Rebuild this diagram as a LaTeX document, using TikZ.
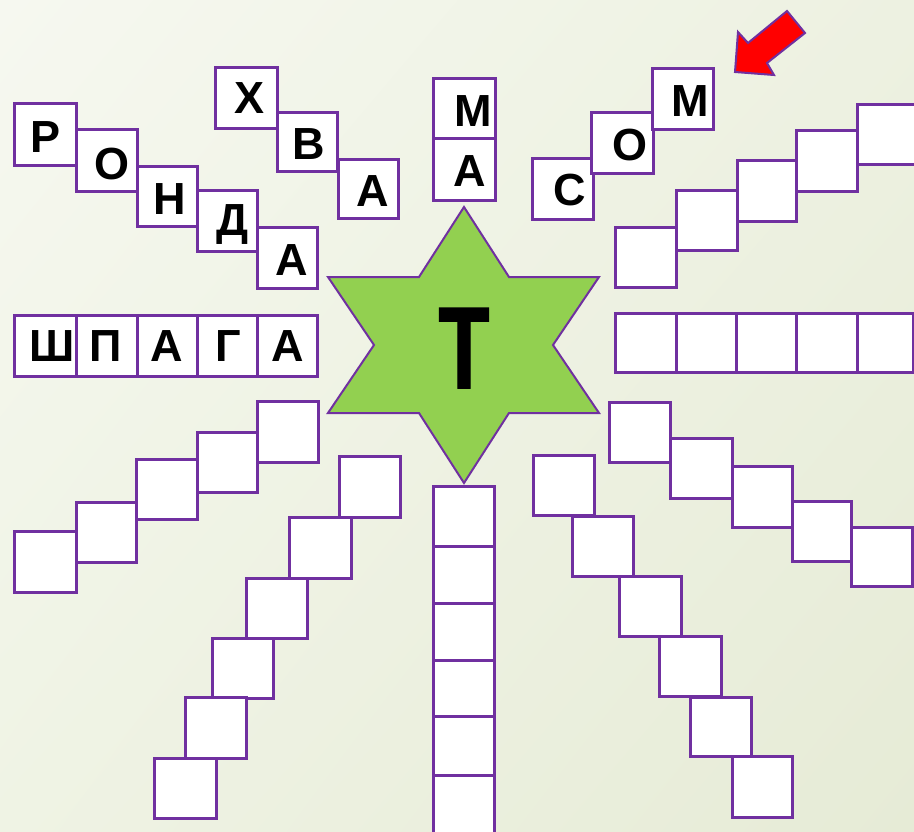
\documentclass[tikz,border=0pt]{standalone}
\usepackage{fontspec}
\setmainfont{Liberation Sans}
\newfontfamily\heavysans{Liberation Sans Bold}[FakeBold=1.5]
\usetikzlibrary{shadings}

\definecolor{cellpurple}{RGB}{112,48,160}
\definecolor{stargreen}{RGB}{146,208,80}
\definecolor{bgUL}{RGB}{246,248,240}
\definecolor{bgUR}{RGB}{237,241,225}
\definecolor{bgLL}{RGB}{239,243,228}
\definecolor{bgLR}{RGB}{230,235,214}

% one crossword cell given by its corners (x1,y1) and (x2,y2)
\newcommand\cell[5]{%
  \pgfmathsetmacro\cellW{#4-#2}\pgfmathsetmacro\cellH{#5-#3}%
  \pgfmathsetmacro\cellX{(#2+#4)/2}\pgfmathsetmacro\cellY{(#3+#5)/2}%
  \node[cellbox, minimum width=\cellW pt, minimum height=\cellH pt] (#1) at (\cellX,\cellY) {};}
% a letter placed in a cell, nudged by (dx, dy up)
\newcommand\glyphin[5]{%
  \node[glyph] (#1) at ([xshift=#3pt, yshift=#4pt]#2.center) {#5};}

\begin{document}
\begin{tikzpicture}[x=1pt, y=-1pt,
  cellbox/.style={rectangle, draw=cellpurple, fill=white, line width=3pt, inner sep=0pt},
  glyph/.style={inner sep=0pt, text height=32.2pt, text depth=0pt,
    font=\bfseries\fontsize{45}{45}\selectfont},
  starshape/.style={draw=cellpurple, fill=stargreen, line width=2pt, line join=miter},
  pointer/.style={draw=cellpurple, fill=red, line width=2pt, line join=miter}]

\useasboundingbox (0,0) rectangle (914,832);
\shade[upper left=bgUL, upper right=bgUR, lower left=bgLL, lower right=bgLR]
  (0,0) rectangle (914,832);

\begin{scope}
\clip (0,0) rectangle (914,832);

% РОНДА
\cell{r1}{14}{104}{76}{166}
\cell{r2}{76}{130}{137}{192}
\cell{r3}{137}{167}{197}{227}
\cell{r4}{197}{191}{257}{252}
\cell{r5}{257}{228}{317}{288}
\glyphin{lr1}{r1}{1}{-1}{Р}
\glyphin{lr2}{r2}{6}{-2.5}{О}
\glyphin{lr3}{r3}{3}{-1.5}{Н}
\glyphin{lr4}{r4}{6}{2.5}{Д}
\glyphin{lr5}{r5}{5}{-1}{А}

% ХВА
\cell{h1}{215}{68}{277}{129}
\cell{h2}{277}{113}{337}{172}
\cell{h3}{338}{160}{398}{219}
\glyphin{lh1}{h1}{4}{1}{Х}
\glyphin{lh2}{h2}{2}{-0.5}{В}
\glyphin{lh3}{h3}{5}{-0.5}{А}

% МА
\cell{m1}{433}{79}{495}{139}
\cell{m2}{433}{139}{495}{201}
\glyphin{lm1}{m1}{9}{-1}{М}
\glyphin{lm2}{m2}{6}{0}{А}

% СОМ
\cell{s1}{532}{159}{593}{220}
\cell{s2}{591}{113}{653}{174}
\cell{s3}{652}{69}{713}{130}
\glyphin{ls1}{s1}{7}{0}{С}
\glyphin{ls2}{s2}{8}{-0.5}{О}
\glyphin{ls3}{s3}{8}{-0.5}{М}

% ШПАГА
\cell{g1}{14}{315}{76}{376}
\cell{g2}{76}{315}{137}{376}
\cell{g3}{137}{315}{197}{376}
\cell{g4}{197}{315}{257}{376}
\cell{g5}{257}{315}{317}{376}
\glyphin{lg1}{g1}{7}{0}{Ш}
\glyphin{lg2}{g2}{-1}{0}{П}
\glyphin{lg3}{g3}{0}{0}{А}
\glyphin{lg4}{g4}{1}{0}{Г}
\glyphin{lg5}{g5}{1}{0}{А}

% upper right steps
\cell{u1}{615}{228}{676}{287}
\cell{u2}{676}{191}{737}{251}
\cell{u3}{737}{161}{796}{222}
\cell{u4}{796}{131}{857}{192}
\cell{u5}{857}{105}{918}{165}

% right row
\cell{k1}{615}{313}{676}{372}
\cell{k2}{676}{313}{736}{372}
\cell{k3}{736}{313}{796}{372}
\cell{k4}{796}{313}{857}{372}
\cell{k5}{857}{313}{913}{372}

% lower right steps
\cell{v1}{609}{402}{670}{462}
\cell{v2}{670}{438}{732}{498}
\cell{v3}{732}{466}{792}{527}
\cell{v4}{792}{501}{851}{561}
\cell{v5}{851}{527}{912}{586}

% bottom right diagonal
\cell{d1}{533}{455}{594}{515}
\cell{d2}{572}{516}{633}{576}
\cell{d3}{619}{576}{681}{636}
\cell{d4}{659}{636}{721}{696}
\cell{d5}{690}{697}{751}{756}
\cell{d6}{732}{756}{792}{817}

% column below the star
\cell{c1}{433}{486}{494}{546}
\cell{c2}{433}{546}{494}{603}
\cell{c3}{433}{603}{494}{660}
\cell{c4}{433}{660}{494}{716}
\cell{c5}{433}{716}{494}{775}
\cell{c6}{433}{775}{494}{838}

% lower left steps
\cell{w1}{14}{531}{76}{592}
\cell{w2}{76}{502}{136}{562}
\cell{w3}{136}{459}{197}{519}
\cell{w4}{197}{432}{257}{492}
\cell{w5}{257}{401}{318}{462}

% bottom left diagonal
\cell{e1}{339}{456}{400}{517}
\cell{e2}{289}{517}{351}{578}
\cell{e3}{246}{578}{307}{638}
\cell{e4}{212}{638}{273}{698}
\cell{e5}{185}{697}{246}{758}
\cell{e6}{154}{758}{216}{818}

% central star with the key letter
\draw[starshape] (464,207) -- (509,277) -- (599,277) -- (553,345) -- (599,413)
  -- (509,413) -- (464,483) -- (419,413) -- (328,413) -- (374,345)
  -- (328,277) -- (419,277) -- cycle;
\node[inner sep=0pt, anchor=base, font=\heavysans\fontsize{116}{120}\selectfont]
  (T) at (464,388) {\scalebox{0.72}[1]{T}};

% red pointer
\draw[pointer] (735,72) -- (738,32) -- (748,43) -- (787,11) -- (805,33)
  -- (767,63) -- (774,75) -- cycle;
\end{scope}
\end{tikzpicture}
\end{document}
